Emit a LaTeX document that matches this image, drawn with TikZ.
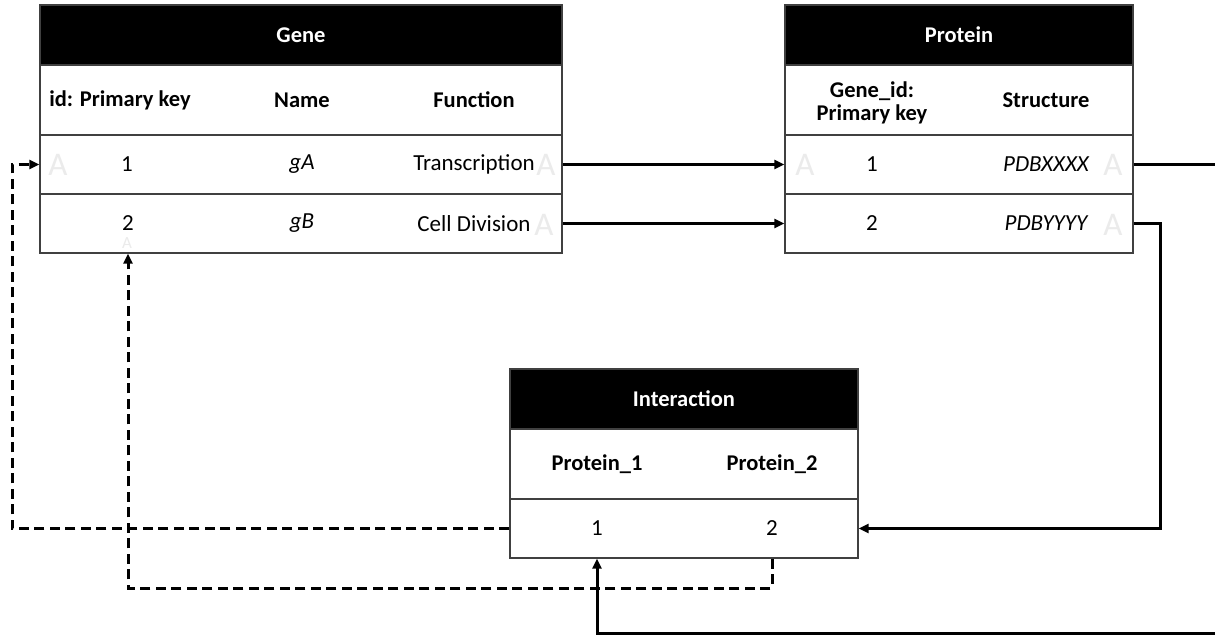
\documentclass[tikz,border=0pt]{standalone}
\usepackage{fontspec}
\setmainfont{Carlito}
\usetikzlibrary{arrows.meta}
\begin{document}
\begin{tikzpicture}[x=1pt,y=-1pt,
  txt/.style={font=\fontsize{23}{28}\selectfont, inner sep=0pt},
  bold/.style={font=\fontsize{22.5}{28}\selectfont\bfseries, inner sep=0pt},
  title/.style={draw=black!75, line width=1.4pt, fill=black, text=white,
    font=\fontsize{22.5}{28}\selectfont\bfseries, inner sep=0pt,
    minimum width=#1, minimum height=60pt},
  cell/.style={draw=black!75, line width=1.4pt, fill=white, inner sep=0pt,
    minimum width=#1},
  ghost/.style={font=\fontsize{33}{33}\selectfont, text=black!8, inner sep=0pt},
  conn/.style={line width=3pt, -{Triangle[length=10pt,width=9pt]}},
  link/.style={line width=3pt, dash pattern=on 10pt off 5.5pt, -{Triangle[length=10pt,width=9pt]}}
]
\clip (0,0) rectangle (1215,636);

% ---------- Gene table ----------
\node[title=522pt] (gene) at (301,35) {Gene};
\node[cell=522pt, minimum height=70pt] (geneCols) at (301,100) {};
\node[cell=522pt, minimum height=59pt] (geneR1) at (301,164.5) {};
\node[cell=522pt, minimum height=59pt] (geneR2) at (301,223.5) {};
\node[bold] (gIdH) at (120,100) {id: Primary key};
\node[bold] (gNameH) at (302,100) {Name};
\node[bold] (gFuncH) at (474,100) {Function};
\node[txt] (g1) at (127,164.5) {1};
\node[txt] (gA) at (302,164.5) {\itshape gA};
\node[txt] (gT) at (474,164.5) {Transcription};
\node[txt] (g2) at (128,223.5) {2};
\node[txt] (gB) at (302,223.5) {\itshape gB};
\node[txt] (gC) at (474,223.5) {Cell Division};

% ---------- Protein table ----------
\node[title=348pt] (prot) at (959,35) {Protein};
\node[cell=348pt, minimum height=70pt] (protCols) at (959,100) {};
\node[cell=348pt, minimum height=59pt] (protR1) at (959,164.5) {};
\node[cell=348pt, minimum height=59pt] (protR2) at (959,223.5) {};
\node[bold, align=center, font=\fontsize{22.5}{23}\selectfont\bfseries] (pIdH) at (872,102.5) {Gene\_id:\\Primary key};
\node[bold] (pStrH) at (1046,100) {Structure};
\node[txt] (p1) at (872,164.5) {1};
\node[txt] (pX) at (1046,164.5) {\itshape PDBXXXX};
\node[txt] (p2) at (872,223.5) {2};
\node[txt] (pY) at (1046,223.5) {\itshape PDBYYYY};

% ---------- Interaction table ----------
\node[title=348pt] (inter) at (684,399) {Interaction};
\node[cell=348pt, minimum height=70pt] (intCols) at (684,464) {};
\node[cell=348pt, minimum height=59pt] (intRow) at (684,528.5) {};
\node[bold] (iP1H) at (597,464) {Protein\_1};
\node[bold] (iP2H) at (772,464) {Protein\_2};
\node[txt] (i1) at (597,528.5) {1};
\node[txt] (i2) at (772,528.5) {2};

% ---------- faint port markers ----------
\node[ghost] (aG1) at (58,165) {A};
\node[ghost, font=\fontsize{17}{17}\selectfont] (aG2) at (127,243) {A};
\node[ghost] (aGT) at (546,165) {A};
\node[ghost] (aGC) at (544,225) {A};
\node[ghost] (aP1) at (805,165) {A};
\node[ghost] (aPX) at (1113,165) {A};
\node[ghost] (aPY) at (1113,225) {A};

% ---------- routing points ----------
\coordinate (rFar) at (1240,633.5);
\coordinate (rNear) at (1160,0);
\coordinate (rLeft) at (12,0);
\coordinate (rLow) at (0,588);

% ---------- foreign keys ----------
\draw[conn] (geneR1.east) -- (protR1.west);
\draw[conn] (geneR2.east) -- (protR2.west);
\draw[conn] (protR1.east) -| (rFar) -| (i1 |- intRow.south);
\draw[conn] (protR2.east) -- (rNear |- protR2.east) |- (intRow.east);
\draw[link] (intRow.west) -- (rLeft |- intRow.west) |- (geneR1.west);
\draw[link] (i2 |- intRow.south) -- (i2 |- rLow) -| (g2 |- geneR2.south);
\end{tikzpicture}
\end{document}
